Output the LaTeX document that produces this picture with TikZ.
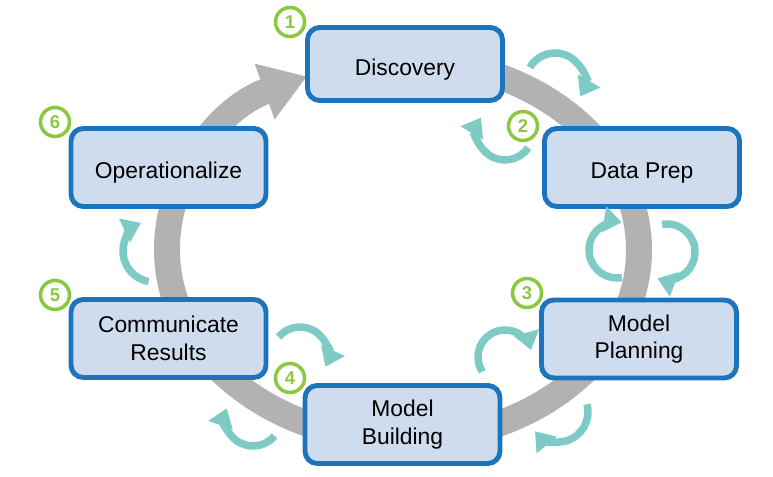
\documentclass[tikz,border=0pt]{standalone}
\usepackage{fontspec}
\setmainfont{Liberation Sans}
\usepackage{tikz}
\usetikzlibrary{arrows.meta, calc}
\definecolor{cBorder}{RGB}{28,117,188}
\definecolor{cFill}{RGB}{207,220,238}
\definecolor{cRing}{RGB}{178,178,178}
\definecolor{cTeal}{RGB}{126,203,198}
\definecolor{cNum}{RGB}{141,198,63}
\tikzset{
	phase/.style ={rectangle, rounded corners=7pt, minimum width=3.9cm, minimum height=1.56cm, draw=cBorder, line width=2.8pt, fill=cFill, font=\fontsize{13}{15.6}\selectfont, text height=15.5pt, text depth=2.5pt},
	twoline/.style={align=center, text height=, text depth=},
	stepno/.style={circle, draw=cNum, line width=2pt, minimum size=0.58cm, inner sep=0pt, text=cNum, font=\fontsize{10.5}{12}\selectfont\bfseries},
	ring/.style  ={draw=cRing, line width=0.52cm, -{Triangle[width=1.12cm, length=0.9cm]}},
	turn/.style  ={draw=cTeal, line width=0.15cm, -{Triangle[width=0.5cm, length=0.36cm]}},
}
\newcommand{\loopback}[5]{%
	\draw[turn] ($(#1,#2)+(#3:#5)$) arc[start angle=#3, end angle=#4, radius=#5];}

\begin{document}
\begin{tikzpicture}
	\useasboundingbox (0,0) rectangle (15.46,9.54);
	% ---------------- big cycle ----------------
	\draw[ring] (8.06,4.54) ++(95:4.72 and 3.80) arc[start angle=95, end angle=-246, x radius=4.72, y radius=3.80];
	% ---------------- phases ----------------
	\node[phase, minimum height=1.46cm] (disc) at (8.10,8.26) {Discovery};
	\node[phase] (prep)  at (12.84,6.19) {Data Prep};
	\node[phase, twoline] (plan)  at (12.78,2.76) {Model\\Planning};
	\node[phase, twoline] (build) at (8.05,1.05)  {Model\\Building};
	\node[phase, twoline] (comm)  at (3.37,2.77)  {Communicate\\Results};
	\node[phase] (oper)  at (3.37,6.19)  {Operationalize};
	% ---------------- step numbers ----------------
	\node[stepno] (n1) at (5.80,9.10) {1};
	\node[stepno] (n2) at (10.46,7.02) {2};
	\node[stepno] (n3) at (10.54,3.68) {3};
	\node[stepno] (n4) at (5.80,1.98) {4};
	\node[stepno] (n5) at (1.10,3.64) {5};
	\node[stepno] (n6) at (1.10,7.10) {6};
	% ---------------- back and forth ----------------
	\loopback{11.10}{7.90}{150}{-30}{0.58}
	\loopback{10.10}{6.90}{-34}{-211}{0.56}
	\loopback{12.34}{4.54}{-80}{-280}{0.56}
	\loopback{13.34}{4.50}{100}{-110}{0.56}
	\loopback{10.10}{2.40}{213}{15}{0.54}
	\loopback{11.16}{1.30}{15}{-140}{0.60}
	\loopback{6.00}{2.44}{140}{-25}{0.56}
	\loopback{5.06}{1.18}{-40}{-200}{0.56}
	\loopback{3.08}{4.52}{-100}{-245}{0.62}
\end{tikzpicture}
\end{document}
